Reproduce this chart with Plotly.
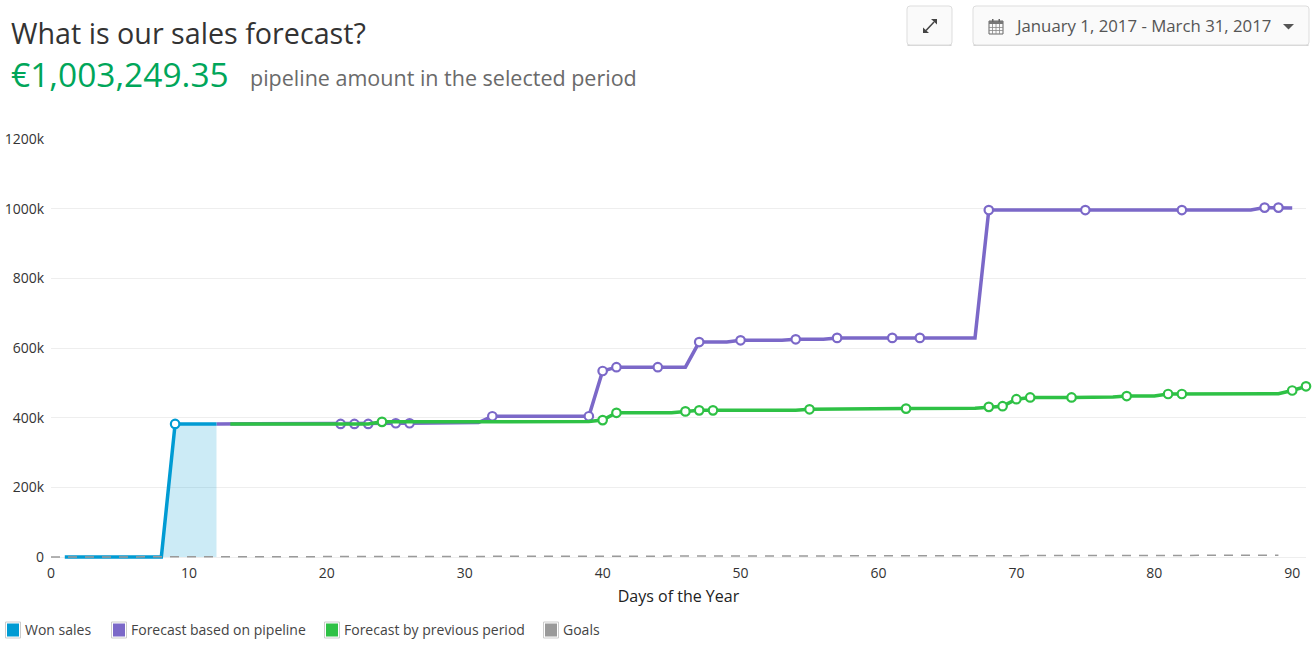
import plotly.graph_objects as go

W, H = 1316, 648
FONT = "Open Sans"

won_days = [1, 2, 3, 4, 5, 6, 7, 8, 9, 10, 11, 12]
won_values = [0, 0, 0, 0, 0, 0, 0, 0, 382000, 382000, 382000, 382000]
won_markers = [9]

pipeline_days = [12, 13, 21, 22, 23, 25, 26, 31, 32, 39, 40, 41, 44, 46, 47, 49, 50, 53, 54, 56, 57, 61, 63, 67, 68, 75, 82, 87, 88, 89, 90]
pipeline_values = [382000, 382000, 382000, 382000, 382000, 384000, 384000, 386000, 404000, 404000, 534000, 545000, 545000, 545000, 617000, 617000, 622000, 622000, 625000, 625000, 629000, 629000, 629000, 629000, 996000, 996000, 996000, 996000, 1003000, 1003000, 1002000]
pipeline_markers = [21, 22, 23, 25, 26, 32, 39, 40, 41, 44, 47, 50, 54, 57, 61, 63, 68, 75, 82, 88, 89]

previous_days = [13, 23, 24, 39, 40, 41, 45, 46, 47, 48, 54, 55, 61, 62, 67, 68, 69, 70, 71, 74, 77, 78, 80, 81, 82, 89, 90, 91]
previous_values = [382000, 382000, 388000, 389000, 393000, 414000, 414000, 418000, 421000, 421000, 421000, 424000, 424000, 426000, 427000, 431000, 433000, 453000, 458000, 458000, 459000, 462000, 462000, 468000, 468000, 469000, 478000, 490000]
previous_markers = [24, 40, 41, 46, 47, 48, 55, 62, 68, 69, 70, 71, 74, 78, 81, 82, 90, 91]

goal_days = [0, 89]
goal_values = [0, 5000]

x_ticks = [0, 10, 20, 30, 40, 50, 60, 70, 80, 90]
y_ticks = [0, 200000, 400000, 600000, 800000, 1000000, 1200000]
y_labels = ["0", "200k", "400k", "600k", "800k", "1000k", "1200k"]

BLUE, PURPLE, GREEN, GREY = "#009bd3", "#7b68c8", "#2ec145", "#9a9a9a"
legend_items = [("Won sales", BLUE, 5, 25), ("Forecast based on pipeline", PURPLE, 111, 131),
                ("Forecast by previous period", GREEN, 324, 344), ("Goals", GREY, 543, 563)]

# Paper coordinates are relative to the plot area. The area runs 3 px below
# the zero line, so the thick line lying on zero is not clipped in half.
L, R, T, B = 51, 1306, 139, 560
ZERO_PAD = 3 * 1200000 / 418


def qx(x):
    return (x - L) / (R - L)


def qy(y):
    return (B - y) / (B - T)


def rect(x0, y0, x1, y1, fill, line=None, lw=1):
    return dict(type="rect", xref="paper", yref="paper", x0=qx(x0), x1=qx(x1), y0=qy(y1), y1=qy(y0),
                fillcolor=fill, line=dict(color=line or fill, width=lw if line else 0), layer="above")


def path(points, fill=None, line=None, lw=1, close=True):
    d = "M " + " L ".join(f"{qx(a):.5f},{qy(b):.5f}" for a, b in points) + (" Z" if close else "")
    return dict(type="path", xref="paper", yref="paper", path=d, fillcolor=fill,
                line=dict(color=line or "rgba(0,0,0,0)", width=lw), layer="above")


def rounded(x0, y0, x1, y1, r, fill, line):
    X0, X1, Y0, Y1 = qx(x0), qx(x1), qy(y0), qy(y1)
    dx, dy = r / (R - L), r / (B - T)
    d = (f"M {X0 + dx},{Y0} L {X1 - dx},{Y0} Q {X1},{Y0} {X1},{Y0 - dy} L {X1},{Y1 + dy} Q {X1},{Y1} {X1 - dx},{Y1} "
         f"L {X0 + dx},{Y1} Q {X0},{Y1} {X0},{Y1 + dy} L {X0},{Y0 - dy} Q {X0},{Y0} {X0 + dx},{Y0} Z")
    return dict(type="path", xref="paper", yref="paper", path=d, fillcolor=fill,
                line=dict(color=line, width=1), layer="above")


def text(x, y, s, size, color, anchor="left"):
    return dict(text=s, xref="paper", yref="paper", x=qx(x), y=qy(y), xanchor=anchor, yanchor="middle",
                showarrow=False, font=dict(family=FONT, size=size, color=color), borderpad=0)


def marker_points(days, values, wanted):
    pairs = [(d, v) for d, v in zip(days, values) if d in wanted]
    return [p[0] for p in pairs], [p[1] for p in pairs]


LW = 3.5
MS = 8.5
MW = 2.2
fig = go.Figure()
for name, days, values, wanted, color in [
    ("Forecast based on pipeline", pipeline_days, pipeline_values, pipeline_markers, PURPLE),
    ("Forecast by previous period", previous_days, previous_values, previous_markers, GREEN),
]:
    fig.add_trace(go.Scatter(x=days, y=values, mode="lines", name=name, line=dict(color=color, width=LW)))
    mx, my = marker_points(days, values, wanted)
    fig.add_trace(go.Scatter(x=mx, y=my, mode="markers", name=name, cliponaxis=False,
                             marker=dict(size=MS, color="white", line=dict(color=color, width=MW))))
fig.add_trace(go.Scatter(x=won_days, y=won_values, mode="lines", name="Won sales", line=dict(color=BLUE, width=LW),
                         fill="tozeroy", fillcolor="rgba(0,155,211,0.2)"))
mx, my = marker_points(won_days, won_values, won_markers)
fig.add_trace(go.Scatter(x=mx, y=my, mode="markers", name="Won sales",
                         marker=dict(size=MS, color="white", line=dict(color=BLUE, width=MW))))
fig.add_trace(go.Scatter(x=goal_days, y=goal_values, mode="lines", line=dict(color=GREY, width=1.5, dash="9px,8px"),
                         hoverinfo="skip", name="Goals"))

shapes = [
    rect(907.5, 42, 951.5, 46, "#d4d4d4"),
    rect(973.5, 42, 1308.5, 46, "#d4d4d4"),
    rounded(907, 6, 952, 45, 3, "#fafafa", "#dddddd"),
    rounded(973, 6, 1309, 45, 3, "#fafafa", "#dddddd"),
    # expand icon
    path([(926, 30.5), (934, 22)], line="#444", lw=1.5, close=False),
    path([(923, 33), (923, 27.5), (929, 33)], fill="#444"),
    path([(937, 19), (937, 24.5), (931, 19)], fill="#444"),
    # calendar icon
    rect(989, 21, 1003, 34, "rgba(0,0,0,0)", "#666", 1),
    rect(989, 21, 1003, 24, "#777"),
    rect(992, 19, 993.5, 22, "#666"),
    rect(998.5, 19, 1000, 22, "#666"),
    path([(989, 27.5), (1003, 27.5)], line="#888", lw=0.8, close=False),
    path([(989, 30.5), (1003, 30.5)], line="#888", lw=0.8, close=False),
    path([(992.5, 24), (992.5, 34)], line="#888", lw=0.8, close=False),
    path([(996, 24), (996, 34)], line="#888", lw=0.8, close=False),
    path([(999.5, 24), (999.5, 34)], line="#888", lw=0.8, close=False),
    # caret
    path([(1283, 24), (1294, 24), (1288.5, 29.5)], fill="#555"),
]
annotations = [
    text(10, 32.5, "What is our sales forecast?", 28.7, "#333333"),
    text(10, 74, "€1,003,249.35", 33.5, "#00a65a"),
    text(249, 77.5, "pipeline amount in the selected period", 21.5, "#6a6a6a"),
    text(1014, 25.5, "January 1, 2017 - March 31, 2017", 16.8, "#555555"),
]
for label, color, box_x, text_x in legend_items:
    shapes.append(rect(box_x + 0.5, 622, box_x + 15.5, 638, "#ffffff", "#cccccc", 1))
    shapes.append(rect(box_x + 2, 623.5, box_x + 14, 636.5, color))
    annotations.append(text(text_x - 1, 629.5, label, 14, "#444444"))

fig.update_layout(
    width=W, height=H, autosize=False, showlegend=False, hovermode="closest",
    paper_bgcolor="white", plot_bgcolor="white",
    margin=dict(l=L, r=W - R, t=T, b=H - B, pad=0, autoexpand=False),
    font=dict(family=FONT, size=14, color="#333333"),
    shapes=shapes, annotations=annotations,
    xaxis=dict(range=[0, 91], tickvals=x_ticks, showgrid=False, zeroline=False, ticks="", showline=False,
               automargin=False, tickfont=dict(size=14, color="#333333"), ticklabelstandoff=3,
               title=dict(text="Days of the Year", font=dict(size=16, color="#222222"), standoff=9)),
    yaxis=dict(range=[-ZERO_PAD, 1200000], tickvals=y_ticks, ticktext=y_labels, gridcolor="#eeeeee", gridwidth=1,
               automargin=False, zeroline=True, zerolinecolor="#eeeeee", zerolinewidth=1, ticks="", showline=False,
               tickfont=dict(size=14, color="#333333"), ticklabelstandoff=6),
)
fig.write_html("out.html", config=dict(displayModeBar=False), post_script="document.body.style.margin='0';")
